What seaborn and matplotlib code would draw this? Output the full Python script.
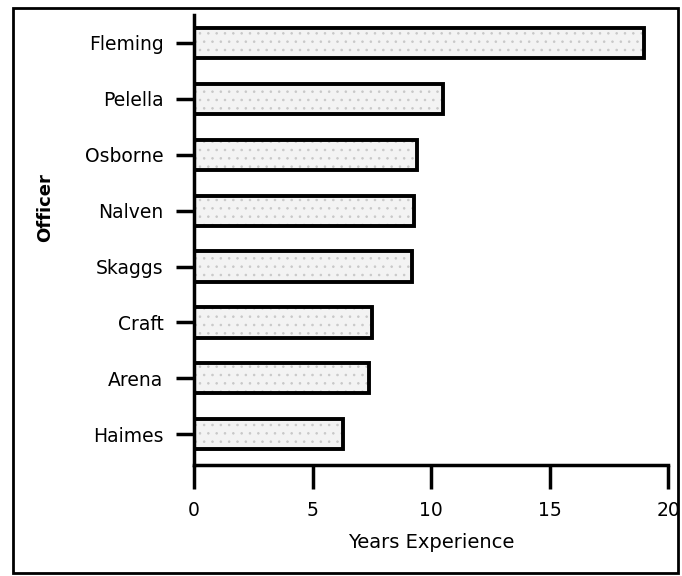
import pandas as pd
import matplotlib.pyplot as plt
import seaborn as sns
from matplotlib.patches import Rectangle

officers = ["Fleming", "Pelella", "Osborne", "Nalven", "Skaggs", "Craft", "Arena", "Haimes"]
years = [19.0, 10.5, 9.4, 9.3, 9.2, 7.5, 7.4, 6.3]

df = pd.DataFrame({"Officer": officers, "Years Experience": years})

sns.set_style("ticks")
plt.rcParams["font.family"] = ["DejaVu Sans"]
plt.rcParams["text.color"] = "black"
plt.rcParams["axes.labelcolor"] = "black"
plt.rcParams["hatch.linewidth"] = 0.6

fig = plt.figure(figsize=(6.82, 5.76), dpi=100)
ax = fig.add_axes([194 / 682, 1 - 465 / 576, (668 - 194) / 682, (465 - 15) / 576])

# speckled light fill
sns.barplot(data=df, x="Years Experience", y="Officer", order=officers,
            color="#f3f3f3", width=0.54, edgecolor="#c8c8c8", linewidth=0,
            hatch="..", ax=ax)
# black outlines on top
sns.barplot(data=df, x="Years Experience", y="Officer", order=officers,
            fill=False, width=0.54, edgecolor="black", linewidth=2.8, ax=ax)

ax.set_xlim(0, 20)
ax.set_xticks([0, 5, 10, 15, 20])
ax.set_ylim(7.55, -0.5)

for s in ["top", "right"]:
    ax.spines[s].set_visible(False)
for s in ["left", "bottom"]:
    ax.spines[s].set_linewidth(2.5)
    ax.spines[s].set_color("black")

ax.tick_params(axis="y", length=13, width=2.5, pad=9, labelsize=13.5, colors="black")
ax.tick_params(axis="x", length=17, width=2.5, pad=9, labelsize=13.5, colors="black")

ax.set_xlabel("Years Experience", fontsize=14, labelpad=9)
ax.set_ylabel("Officer", fontsize=13, fontweight="bold")
ax.yaxis.set_label_coords(-0.295, 0.573)

fig.patches.append(Rectangle((13 / 682, 3 / 576), (678 - 13) / 682, (568 - 3) / 576,
                             transform=fig.transFigure, fill=False,
                             edgecolor="black", linewidth=2))

plt.savefig("out.png", dpi=100)
